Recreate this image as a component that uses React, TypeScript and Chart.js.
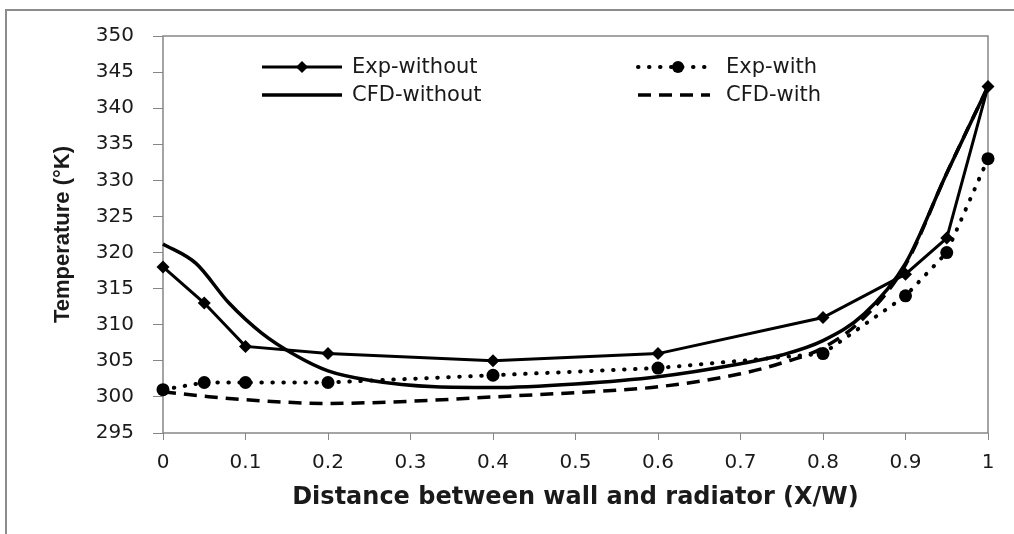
import React, { useEffect, useRef } from "react";
import { Chart, registerables } from "chart.js";

Chart.register(...registerables);

// Experimental positions (X/W)
const expX = [0, 0.05, 0.1, 0.2, 0.4, 0.6, 0.8, 0.9, 0.95, 1];
const expWithout = [318, 313, 307, 306, 305, 306, 311, 317, 322, 343];
const expWith = [301, 302, 302, 302, 303, 304, 306, 314, 320, 333];

// CFD profiles
const cfdWithoutX = [0, 0.04, 0.08, 0.12, 0.16, 0.2, 0.25, 0.33, 0.4, 0.5, 0.6, 0.7, 0.75, 0.8, 0.85, 0.9, 0.95, 1];
const cfdWithoutY = [321.2, 318.5, 313.0, 308.8, 305.8, 303.6, 302.3, 301.4, 301.3, 301.8, 302.8, 304.6, 305.8, 307.8, 311.5, 318.5, 331.0, 343.0];
const cfdWithX = [0, 0.05, 0.1, 0.2, 0.3, 0.4, 0.5, 0.6, 0.7, 0.75, 0.8, 0.85, 0.9, 0.95, 1];
const cfdWithY = [300.7, 300.1, 299.6, 299.1, 299.4, 300.0, 300.6, 301.4, 303.2, 304.7, 306.8, 311.0, 318.3, 331.0, 343.0];

const seriesNames = ["Exp-without", "Exp-with", "CFD-without", "CFD-with"];
const xTitle = "Distance between wall and radiator (X/W)";
const yTitle = "Temperature (°K)";

const W = 1014;
const H = 534;
const AREA = { left: 163, right: 988, top: 36, bottom: 433 };
const GRAY = "#868686";
const TEXT = "#1a1a1a";

const zip = (xs: number[], ys: number[]) => xs.map((x, i) => ({ x, y: ys[i] }));

const framePlugin = {
  id: "frame",
  beforeDraw(chart: any) {
    const ctx = chart.ctx;
    ctx.save();
    ctx.fillStyle = "#ffffff";
    ctx.fillRect(0, 0, chart.width, chart.height);
    ctx.strokeStyle = "#8c8c8c";
    ctx.lineWidth = 2;
    ctx.beginPath();
    ctx.moveTo(6, H);
    ctx.lineTo(6, 10);
    ctx.lineTo(W, 10);
    ctx.stroke();
    ctx.restore();
  },
  beforeDatasetsDraw(chart: any) {
    const { ctx, chartArea } = chart;
    ctx.save();
    ctx.strokeStyle = GRAY;
    ctx.lineWidth = 1.5;
    ctx.strokeRect(chartArea.left, chartArea.top, chartArea.right - chartArea.left, chartArea.bottom - chartArea.top);
    ctx.restore();
  },
};

const legendPlugin = {
  id: "customLegend",
  afterDraw(chart: any) {
    const ctx = chart.ctx;
    const rows = [67, 95];
    const cols = [
      { x0: 262, x1: 342, mx: 302, tx: 352 },
      { x0: 638, x1: 710, mx: 678, tx: 726 },
    ];
    const layout = [
      { ds: 0, col: 0, row: 0 },
      { ds: 1, col: 1, row: 0 },
      { ds: 2, col: 0, row: 1 },
      { ds: 3, col: 1, row: 1 },
    ];
    ctx.save();
    layout.forEach(({ ds, col, row }) => {
      const d: any = chart.data.datasets[ds];
      const c = cols[col];
      const y = rows[row];
      ctx.strokeStyle = d.borderColor;
      ctx.lineWidth = d.borderWidth;
      ctx.setLineDash(d.borderDash || []);
      ctx.lineCap = d.borderCapStyle || "butt";
      ctx.beginPath();
      ctx.moveTo(c.x0, y);
      ctx.lineTo(c.x1, y);
      ctx.stroke();
      ctx.setLineDash([]);
      if (d.pointRadius > 0) {
        ctx.fillStyle = d.pointBackgroundColor;
        const r = d.pointRadius - 0.5;
        ctx.beginPath();
        if (d.pointStyle === "rectRot") {
          ctx.moveTo(c.mx, y - r);
          ctx.lineTo(c.mx + r, y);
          ctx.lineTo(c.mx, y + r);
          ctx.lineTo(c.mx - r, y);
          ctx.closePath();
        } else {
          ctx.arc(c.mx, y, r, 0, Math.PI * 2);
        }
        ctx.fill();
      }
      ctx.fillStyle = TEXT;
      ctx.font = "21px 'DejaVu Sans', sans-serif";
      ctx.textBaseline = "middle";
      ctx.textAlign = "left";
      ctx.fillText(d.label, c.tx, y + 1);
    });
    ctx.restore();
  },
};

export default function App() {
  const ref = useRef<HTMLCanvasElement | null>(null);

  useEffect(() => {
    if (!ref.current) return;
    const chart = new Chart(ref.current, {
      type: "line",
      data: {
        datasets: [
          {
            label: seriesNames[0],
            data: zip(expX, expWithout),
            borderColor: "#000",
            backgroundColor: "#000",
            borderWidth: 3,
            pointStyle: "rectRot",
            pointRadius: 6.5,
            pointBackgroundColor: "#000",
            pointBorderWidth: 0,
            tension: 0,
            clip: false,
          } as any,
          {
            label: seriesNames[1],
            data: zip(expX, expWith),
            borderColor: "#000",
            backgroundColor: "#000",
            borderWidth: 4,
            borderDash: [0.5, 10.5],
            borderCapStyle: "round",
            pointStyle: "circle",
            pointRadius: 6.5,
            pointBackgroundColor: "#000",
            pointBorderWidth: 0,
            tension: 0,
            clip: false,
          } as any,
          {
            label: seriesNames[2],
            data: zip(cfdWithoutX, cfdWithoutY),
            borderColor: "#000",
            backgroundColor: "#000",
            borderWidth: 3.5,
            pointRadius: 0,
            cubicInterpolationMode: "monotone",
            clip: false,
          } as any,
          {
            label: seriesNames[3],
            data: zip(cfdWithX, cfdWithY),
            borderColor: "#000",
            backgroundColor: "#000",
            borderWidth: 3.5,
            borderDash: [13, 8],
            pointRadius: 0,
            cubicInterpolationMode: "monotone",
            clip: false,
          } as any,
        ],
      },
      options: {
        animation: false,
        responsive: false,
        devicePixelRatio: 1,
        events: [],
        layout: { padding: { top: AREA.top, right: W - AREA.right, left: 0, bottom: 0 } },
        plugins: { legend: { display: false }, tooltip: { enabled: false } },
        scales: {
          x: {
            type: "linear",
            min: 0,
            max: 1,
            afterFit: (s: any) => {
              s.height = H - AREA.bottom;
            },
            grid: { drawOnChartArea: false, drawTicks: true, tickLength: 7, color: GRAY, lineWidth: 1 },
            border: { display: false },
            ticks: {
              stepSize: 0.1,
              padding: 11,
              color: TEXT,
              maxRotation: 0,
              autoSkip: false,
              font: { family: "'DejaVu Sans', sans-serif", size: 20 },
              callback: (v: any) => String(Number(Number(v).toFixed(1))),
            },
            title: {
              display: true,
              text: xTitle,
              color: TEXT,
              font: { family: "'DejaVu Sans', sans-serif", size: 24, weight: "bold" },
              padding: { top: 0, bottom: 22 },
            },
          },
          y: {
            min: 295,
            max: 350,
            afterFit: (s: any) => {
              s.width = AREA.left;
            },
            grid: { drawOnChartArea: false, drawTicks: true, tickLength: 10, color: GRAY, lineWidth: 1 },
            border: { display: false },
            ticks: {
              stepSize: 5,
              padding: 19,
              color: TEXT,
              font: { family: "'DejaVu Sans', sans-serif", size: 20 },
            },
            title: {
              display: true,
              text: yTitle,
              color: TEXT,
              font: { family: "'Liberation Sans', Arial, sans-serif", size: 22, weight: "bold" },
              padding: { top: 50, bottom: 0 },
            },
          },
        },
      },
      plugins: [framePlugin, legendPlugin],
    });
    return () => chart.destroy();
  }, []);

  return (
    <div style={{ position: "fixed", left: 0, top: 0, width: W, height: H, background: "#fff" }}>
      <canvas ref={ref} width={W} height={H} style={{ display: "block", width: W, height: H }} />
    </div>
  );
}
